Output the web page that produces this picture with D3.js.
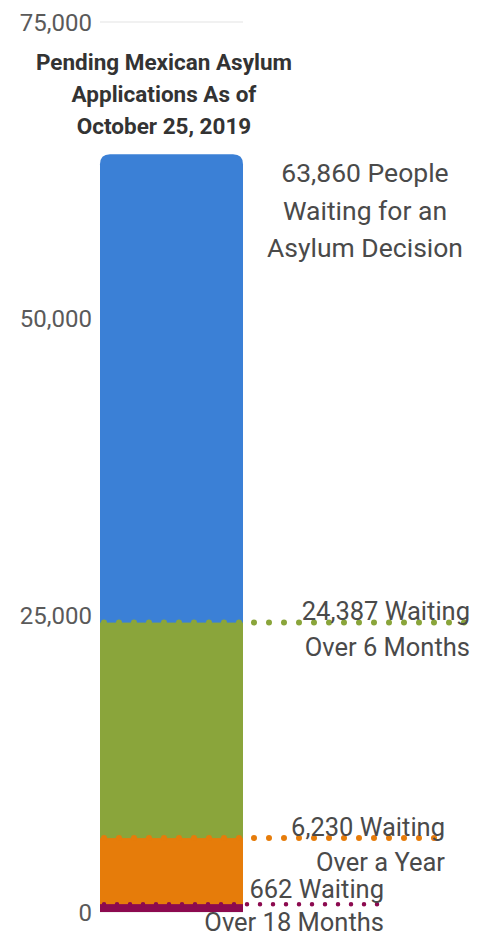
<!DOCTYPE html>
<html>
<head>
<meta charset="utf-8">
<script src="https://cdn.jsdelivr.net/npm/d3@7"></script>
<style>
  body { margin: 0; background: #fff; }
  svg { display: block; font-family: Roboto, "Open Sans", sans-serif; }
</style>
</head>
<body>
<svg width="481" height="937"></svg>
<script>
// Data
var tiers = ["All pending", "Over 6 months", "Over a year", "Over 18 months"];
var counts = [63860, 24387, 6230, 662];
var colors = ["#3b80d6", "#8aa53b", "#e67c0a", "#8c0a4f"];
var noteLines = [
  ["63,860 People", "Waiting for an", "Asylum Decision"],
  ["24,387 Waiting", "Over 6 Months"],
  ["6,230 Waiting", "Over a Year"],
  ["662 Waiting", "Over 18 Months"]
];
var lineEnds = [null, 470, 445, 384]; // right end of dotted leader, px
var titleLines = ["Pending Mexican Asylum", "Applications As of", "October 25, 2019"];
var ticks = [0, 25000, 50000, 75000];

// Layout
var barLeft = 100, barRight = 243;
var svg = d3.select("svg");
var y = d3.scaleLinear().domain([0, 75000]).range([912, 22]);
var fmt = d3.format(",");

// Gridlines (only the top one shows above the bar)
svg.append("g").selectAll("line")
  .data(ticks)
  .join("line")
    .attr("x1", barLeft).attr("x2", barRight)
    .attr("y1", function(d){ return y(d); })
    .attr("y2", function(d){ return y(d); })
    .attr("stroke", "#e3e3e3").attr("stroke-width", 1);

// Axis labels
svg.append("g").selectAll("text")
  .data(ticks)
  .join("text")
    .attr("x", 92)
    .attr("y", function(d){ return y(d); })
    .attr("dy", "0.36em")
    .attr("text-anchor", "end")
    .attr("font-size", 24)
    .attr("fill", "#5a5a5a")
    .text(function(d){ return fmt(d); });

// Bars: overlaid cumulative segments, largest first
var rad = 10;
counts.forEach(function(v, i){
  if (i === 0) {
    var t = y(v), b = y(0);
    svg.append("path")
      .attr("d", "M" + barLeft + "," + b +
        "V" + (t + rad) +
        "Q" + barLeft + "," + t + " " + (barLeft + rad) + "," + t +
        "H" + (barRight - rad) +
        "Q" + barRight + "," + t + " " + barRight + "," + (t + rad) +
        "V" + b + "Z")
      .attr("fill", colors[i]);
  } else {
    svg.append("rect")
      .attr("x", barLeft).attr("width", barRight - barLeft)
      .attr("y", y(v)).attr("height", y(0) - y(v))
      .attr("fill", colors[i]);
  }
});

// Dotted leader lines
counts.forEach(function(v, i){
  if (!lineEnds[i]) return;
  var sw = i === 3 ? 4.5 : 6;
  var gap = i === 3 ? 13 : 15;
  svg.append("line")
    .attr("x1", barLeft + 4).attr("x2", lineEnds[i])
    .attr("y1", y(v)).attr("y2", y(v))
    .attr("stroke", colors[i])
    .attr("stroke-width", sw)
    .attr("stroke-linecap", "round")
    .attr("stroke-dasharray", "0," + gap);
});

// Title
svg.append("text")
  .attr("x", 164).attr("y", 70)
  .attr("text-anchor", "middle")
  .attr("font-size", 22.5).attr("font-weight", "bold")
  .attr("fill", "#333")
  .selectAll("tspan")
  .data(titleLines)
  .join("tspan")
    .attr("x", 164)
    .attr("dy", function(d, i){ return i ? 32 : 0; })
    .text(function(d){ return d; });

// Annotations
var notePos = [
  { x: 365, y: 182, anchor: "middle", size: 26.5, lh: 37.5 },
  { x: 470, y: 620, anchor: "end", size: 25.5, lh: 36 },
  { x: 445, y: 836, anchor: "end", size: 25.5, lh: 35 },
  { x: 384, y: 898, anchor: "end", size: 25.5, lh: 33 }
];
noteLines.forEach(function(lines, i){
  var p = notePos[i];
  svg.append("text")
    .attr("x", p.x).attr("y", p.y)
    .attr("text-anchor", p.anchor)
    .attr("font-size", p.size)
    .attr("fill", "#4a4a4a")
    .selectAll("tspan")
    .data(lines)
    .join("tspan")
      .attr("x", p.x)
      .attr("dy", function(d, j){ return j ? p.lh : 0; })
      .text(function(d){ return d; });
});
</script>
</body>
</html>
